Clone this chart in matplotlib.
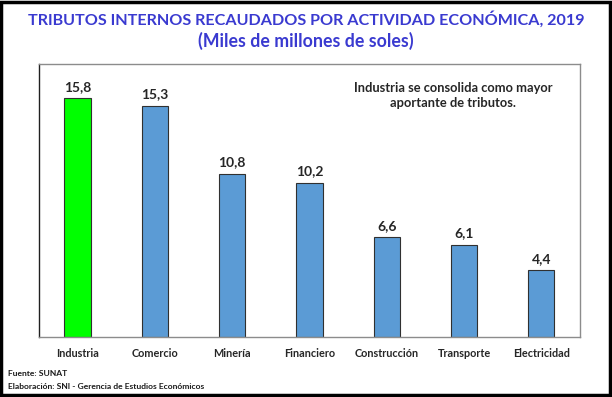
import matplotlib.pyplot as plt
from matplotlib.patches import Rectangle

# === Data ===
categorias = ["Industria", "Comercio", "Minería", "Financiero",
              "Construcción", "Transporte", "Electricidad"]
valores = [15.8, 15.3, 10.8, 10.2, 6.6, 6.1, 4.4]
colores = ["#00FF00"] + ["#5B9BD5"] * 6

plt.rcParams['font.family'] = ['Lato', 'DejaVu Sans']

fig = plt.figure(figsize=(6.12, 3.97), dpi=100)
ax = fig.add_axes([0.0637, 0.151, 0.884, 0.688])

x = range(len(categorias))
bars = ax.bar(x, valores, width=0.34, color=colores, edgecolor="#303030", linewidth=0.8)

for xi, v in zip(x, valores):
    ax.text(xi, v + 0.35, f"{v:.1f}".replace(".", ","), ha="center", va="bottom",
            fontsize=10, fontweight="bold", color="#262626")

ax.set_xlim(-0.5, len(categorias) - 0.5)
ax.set_ylim(0, 18.05)
ax.set_yticks([])
ax.set_xticks(list(x))
ax.set_xticklabels(categorias, fontsize=7.8, fontweight="bold", color="#262626")
ax.tick_params(axis="x", length=0, pad=8)
for s in ["top", "right", "bottom"]:
    ax.spines[s].set_color("#8C8C8C")
ax.spines["left"].set_color("#202020")
for s in ax.spines.values():
    s.set_linewidth(1.0)

ax.text(0.765, 0.885, "Industria se consolida como mayor\naportante de tributos.",
        transform=ax.transAxes, ha="center", va="center", fontsize=9.3,
        fontweight="bold", color="#262626", linespacing=1.35)

fig.text(0.5, 0.95, "TRIBUTOS INTERNOS RECAUDADOS POR ACTIVIDAD ECONÓMICA, 2019",
         ha="center", va="center", fontsize=11.6, fontweight="bold", color="#3A3AD0")
fig.text(0.5, 0.897, "(Miles de millones de soles)",
         ha="center", va="center", fontsize=12.8, fontweight="bold", color="#3A3AD0")

fig.text(0.013, 0.058, "Fuente: SUNAT", ha="left", va="center",
         fontsize=6.1, fontweight="bold", color="#1A1A1A")
fig.text(0.013, 0.027, "Elaboración: SNI - Gerencia de Estudios Económicos", ha="left",
         va="center", fontsize=6.1, fontweight="bold", color="#1A1A1A")

fig.patches.append(Rectangle((0.002, 0.004), 0.994, 0.992, transform=fig.transFigure,
                             fill=False, edgecolor="black", linewidth=2.5))

fig.savefig("out.png", dpi=100)
